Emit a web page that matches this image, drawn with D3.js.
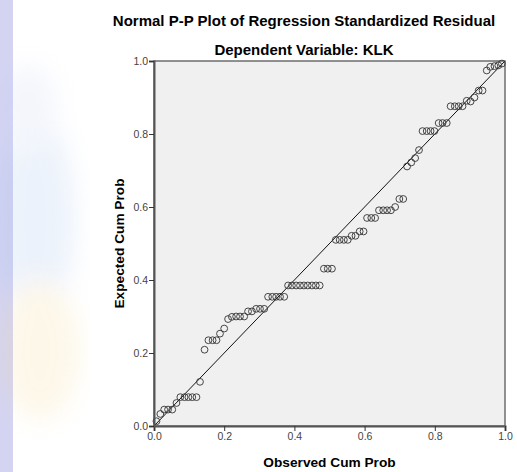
<!DOCTYPE html>
<html>
<head>
<meta charset="utf-8">
<script src="https://cdn.jsdelivr.net/npm/d3@7"></script>
<style>
  body { margin: 0; background: #fff; }
  svg { display: block; font-family: "Liberation Sans", Arial, sans-serif; }
</style>
</head>
<body>
<svg id="chart" width="517" height="472"></svg>
<script>
// observed cumulative probability (x) and expected cumulative probability (y)
const observed = [
  0.007, 0.018, 0.029, 0.040, 0.052, 0.064, 0.075, 0.087, 0.098, 0.109,
  0.121, 0.131, 0.144, 0.155, 0.167, 0.178, 0.188, 0.200, 0.211, 0.222,
  0.234, 0.245, 0.257, 0.268, 0.279, 0.291, 0.302, 0.314, 0.325, 0.337,
  0.348, 0.359, 0.371, 0.382, 0.393, 0.405, 0.416, 0.427, 0.438, 0.450,
  0.461, 0.472, 0.484, 0.495, 0.507, 0.518, 0.529, 0.541, 0.552, 0.563,
  0.574, 0.586, 0.597, 0.607, 0.619, 0.630, 0.641, 0.653, 0.664, 0.675,
  0.687, 0.699, 0.710, 0.721, 0.733, 0.744, 0.755, 0.765, 0.777, 0.788,
  0.799, 0.811, 0.822, 0.834, 0.845, 0.857, 0.868, 0.879, 0.891, 0.902,
  0.913, 0.925, 0.936, 0.948, 0.958, 0.970, 0.981, 0.991
];
const expected = [
  0.013, 0.033, 0.045, 0.045, 0.045, 0.063, 0.079, 0.079, 0.079, 0.079,
  0.079, 0.121, 0.209, 0.235, 0.235, 0.235, 0.253, 0.267, 0.293, 0.299,
  0.300, 0.300, 0.300, 0.314, 0.314, 0.321, 0.321, 0.321, 0.354, 0.354,
  0.354, 0.354, 0.354, 0.385, 0.385, 0.385, 0.385, 0.385, 0.385, 0.385,
  0.385, 0.385, 0.431, 0.431, 0.431, 0.510, 0.510, 0.510, 0.510, 0.521,
  0.521, 0.533, 0.533, 0.570, 0.570, 0.570, 0.591, 0.591, 0.591, 0.591,
  0.600, 0.622, 0.622, 0.711, 0.722, 0.734, 0.756, 0.808, 0.808, 0.808,
  0.808, 0.830, 0.830, 0.830, 0.876, 0.876, 0.876, 0.876, 0.891, 0.889,
  0.900, 0.919, 0.919, 0.974, 0.984, 0.986, 0.988, 0.993
];
const tickValues = [0, 0.2, 0.4, 0.6, 0.8, 1.0];

const points = observed.map((o, i) => ({ o, e: expected[i] }));

const svg = d3.select('#chart');
const margin = { left: 154, right: 12, top: 61, bottom: 46 };
const width = 517 - margin.left - margin.right;
const height = 472 - margin.top - margin.bottom;

// faded background image on the left edge
const defs = svg.append('defs');
const blur = defs.append('filter').attr('id', 'blur');
blur.append('feGaussianBlur').attr('stdDeviation', 12);
svg.append('rect').attr('x', 0).attr('y', 0).attr('width', 13).attr('height', 472).attr('fill', '#d4d4f2');
const wm = svg.append('g').attr('filter', 'url(#blur)').attr('opacity', 0.16);
wm.append('ellipse').attr('cx', 35).attr('cy', 220).attr('rx', 40).attr('ry', 110).attr('fill', '#8fb4e8');
wm.append('ellipse').attr('cx', 40).attr('cy', 350).attr('rx', 40).attr('ry', 70).attr('fill', '#f3d27a');
wm.append('ellipse').attr('cx', 28).attr('cy', 110).attr('rx', 28).attr('ry', 45).attr('fill', '#b9c8ee');

const x = d3.scaleLinear().domain([0, 1]).range([0, width]);
const y = d3.scaleLinear().domain([0, 1]).range([height, 0]);

const g = svg.append('g').attr('transform', `translate(${margin.left},${margin.top})`);

g.append('rect')
  .attr('width', width)
  .attr('height', height)
  .attr('fill', '#f0f0f0')
  .attr('stroke', '#6e6e6e')
  .attr('stroke-width', 1.5);

// reference line
g.append('line')
  .attr('x1', x(0)).attr('y1', y(0))
  .attr('x2', x(1)).attr('y2', y(1))
  .attr('stroke', '#111')
  .attr('stroke-width', 1);

g.selectAll('circle')
  .data(points)
  .join('circle')
  .attr('cx', d => x(d.o))
  .attr('cy', d => y(d.e))
  .attr('r', 3.4)
  .attr('fill', 'none')
  .attr('stroke', '#333')
  .attr('stroke-width', 0.9);

const fmt = d3.format('.1f');

const xAxis = g.append('g')
  .attr('transform', `translate(0,${height})`)
  .call(d3.axisBottom(x).tickValues(tickValues).tickFormat(fmt).tickSize(5).tickPadding(2));
const yAxis = g.append('g')
  .call(d3.axisLeft(y).tickValues(tickValues).tickFormat(fmt).tickSize(5).tickPadding(1));

[xAxis, yAxis].forEach(a => {
  a.select('.domain').attr('stroke', '#555').attr('stroke-width', 2);
  a.selectAll('.tick line').attr('stroke', '#333');
  a.selectAll('.tick text')
    .attr('fill', '#444')
    .style('font-size', '10.5px')
    .style('font-family', '"Liberation Sans", Arial, sans-serif');
});

svg.append('text')
  .attr('x', 304).attr('y', 26)
  .attr('text-anchor', 'middle')
  .style('font-weight', 'bold').style('font-size', '15px')
  .text('Normal P-P Plot of Regression Standardized Residual');

svg.append('text')
  .attr('x', 304).attr('y', 55)
  .attr('text-anchor', 'middle')
  .style('font-weight', 'bold').style('font-size', '15px')
  .text('Dependent Variable: KLK');

svg.append('text')
  .attr('x', margin.left + width / 2).attr('y', 467)
  .attr('text-anchor', 'middle')
  .style('font-weight', 'bold').style('font-size', '13.7px')
  .text('Observed Cum Prob');

svg.append('text')
  .attr('transform', `translate(124,${margin.top + height / 2}) rotate(-90)`)
  .attr('text-anchor', 'middle')
  .style('font-weight', 'bold').style('font-size', '13.7px')
  .text('Expected Cum Prob');
</script>
</body>
</html>
